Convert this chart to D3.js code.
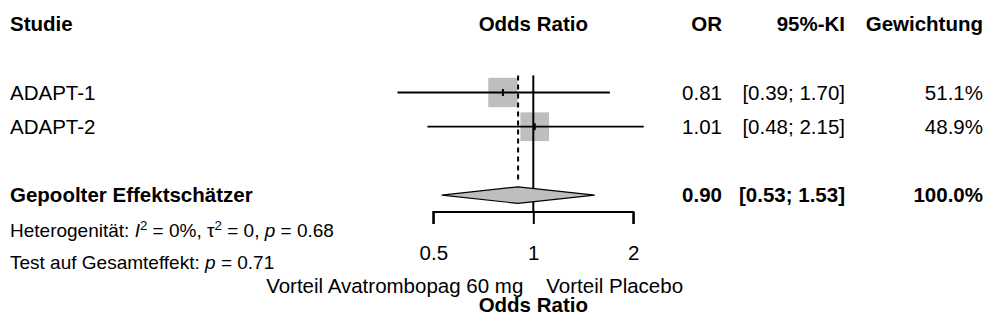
<!DOCTYPE html>
<html lang="de">
<head>
<meta charset="UTF-8">
<title>Forest plot</title>
<script src="https://d3js.org/d3.v7.min.js"></script>
<style>
  body { margin: 0; background: #fff; }
  svg text { font-family: "Liberation Sans", Arial, Helvetica, sans-serif; fill: #000; }
</style>
</head>
<body>
<svg id="chart" width="987" height="331"></svg>
<script>
    // data
    const studies = ["ADAPT-1", "ADAPT-2"];
    const orValues = [0.81, 1.01];
    const ciLower = [0.39, 0.48];
    const ciUpper = [1.70, 2.15];
    const weights = [51.1, 48.9];
    const pooled = [0.90, 0.53, 1.53];   // OR, lower, upper
    const pooledWeight = 100.0;
    const axisTicks = [0.5, 1, 2];
    const headers = ["Studie", "Odds Ratio", "OR", "95%-KI", "Gewichtung"];

    const fmt2 = d3.format(".2f");
    const fmtW = d => d3.format(".1f")(d) + "%";

    const fs = 20.5, fsHet = 19;
    const svg = d3.select("#chart");

    // rows are on an even grid: header, blank, study 1, study 2, blank, pooled
    const rowStep = 34.2;
    const yFirst = 92.5;
    const rowY = i => yFirst + i * rowStep;
    const yHeader = yFirst - 2 * rowStep, yPooled = yFirst + 3 * rowStep;
    const yAxis = 212;

    const x = d3.scaleLog().base(2).domain([0.5, 2]).range([433.3, 633.3]);
    const boxSize = d3.scaleSqrt().domain([0, 51.1]).range([0, 29.3]);

    const colOR = 722, colCI = 845, colW = 983;

    // header
    const hdr = svg.append("g").attr("font-weight", "bold").attr("font-size", fs);
    hdr.append("text").attr("x", 10).attr("y", yHeader).attr("dy", "0.35em").text(headers[0]);
    hdr.append("text").attr("x", x(1)).attr("y", yHeader).attr("dy", "0.35em").attr("text-anchor", "middle").text(headers[1]);
    hdr.append("text").attr("x", colOR).attr("y", yHeader).attr("dy", "0.35em").attr("text-anchor", "end").text(headers[2]);
    hdr.append("text").attr("x", colCI).attr("y", yHeader).attr("dy", "0.35em").attr("text-anchor", "end").text(headers[3]);
    hdr.append("text").attr("x", colW).attr("y", yHeader).attr("dy", "0.35em").attr("text-anchor", "end").text(headers[4]);

    // study rows
    const rows = svg.append("g").selectAll("g").data(studies).join("g");
    rows.append("rect")
        .attr("x", (d, i) => x(orValues[i]) - boxSize(weights[i]) / 2)
        .attr("y", (d, i) => rowY(i) - boxSize(weights[i]) / 2)
        .attr("width", (d, i) => boxSize(weights[i]))
        .attr("height", (d, i) => boxSize(weights[i]))
        .attr("fill", "#bebebe");
    rows.append("line")
        .attr("x1", (d, i) => x(ciLower[i])).attr("x2", (d, i) => x(ciUpper[i]))
        .attr("y1", (d, i) => rowY(i)).attr("y2", (d, i) => rowY(i))
        .attr("stroke", "#000").attr("stroke-width", 1.8);
    rows.append("line")
        .attr("x1", (d, i) => x(orValues[i])).attr("x2", (d, i) => x(orValues[i]))
        .attr("y1", (d, i) => rowY(i) - 3.5).attr("y2", (d, i) => rowY(i) + 3.5)
        .attr("stroke", "#000").attr("stroke-width", 2);

    // reference line at 1 and dashed line at pooled estimate
    svg.append("line")
        .attr("x1", x(pooled[0])).attr("x2", x(pooled[0]))
        .attr("y1", yFirst - rowStep / 2).attr("y2", 180)
        .attr("stroke", "#000").attr("stroke-width", 2)
        .attr("stroke-dasharray", "5,4");
    svg.append("line")
        .attr("x1", x(1)).attr("x2", x(1))
        .attr("y1", yFirst - rowStep / 2).attr("y2", yAxis)
        .attr("stroke", "#000").attr("stroke-width", 2);

    const rowText = rows.append("g").attr("font-size", fs);
    rowText.append("text").attr("x", 10).attr("y", (d, i) => rowY(i)).attr("dy", "0.35em").text(d => d);
    rowText.append("text").attr("x", colOR).attr("y", (d, i) => rowY(i)).attr("dy", "0.35em")
        .attr("text-anchor", "end").text((d, i) => fmt2(orValues[i]));
    rowText.append("text").attr("x", colCI).attr("y", (d, i) => rowY(i)).attr("dy", "0.35em")
        .attr("text-anchor", "end").text((d, i) => `[${fmt2(ciLower[i])}; ${fmt2(ciUpper[i])}]`);
    rowText.append("text").attr("x", colW).attr("y", (d, i) => rowY(i)).attr("dy", "0.35em")
        .attr("text-anchor", "end").text((d, i) => fmtW(weights[i]));

    // pooled diamond
    const dh = 8.3;
    svg.append("path")
        .attr("d", d3.line()([
            [x(pooled[1]), yPooled], [x(pooled[0]), yPooled - dh],
            [x(pooled[2]), yPooled], [x(pooled[0]), yPooled + dh]
        ]) + "Z")
        .attr("fill", "#bebebe").attr("stroke", "#000").attr("stroke-width", 1.2);

    const pt = svg.append("g").attr("font-size", fs).attr("font-weight", "bold");
    pt.append("text").attr("x", 10).attr("y", yPooled).attr("dy", "0.35em").text("Gepoolter Effektschätzer");
    pt.append("text").attr("x", colOR).attr("y", yPooled).attr("dy", "0.35em").attr("text-anchor", "end").text(fmt2(pooled[0]));
    pt.append("text").attr("x", colCI).attr("y", yPooled).attr("dy", "0.35em").attr("text-anchor", "end")
        .text(`[${fmt2(pooled[1])}; ${fmt2(pooled[2])}]`);
    pt.append("text").attr("x", colW).attr("y", yPooled).attr("dy", "0.35em").attr("text-anchor", "end").text(fmtW(pooledWeight));

    // heterogeneity text
    const het = svg.append("text").attr("x", 10).attr("y", 230).attr("dy", "0.35em").attr("font-size", fsHet);
    het.append("tspan").text("Heterogenität: ");
    het.append("tspan").attr("font-style", "italic").text("I");
    het.append("tspan").attr("baseline-shift", "super").attr("font-size", fsHet * 0.7).text("2");
    het.append("tspan").text(" = 0%, τ");
    het.append("tspan").attr("baseline-shift", "super").attr("font-size", fsHet * 0.7).text("2");
    het.append("tspan").text(" = 0, ");
    het.append("tspan").attr("font-style", "italic").text("p");
    het.append("tspan").text(" = 0.68");
    const tst = svg.append("text").attr("x", 10).attr("y", 262).attr("dy", "0.35em").attr("font-size", fsHet);
    tst.append("tspan").text("Test auf Gesamteffekt: ");
    tst.append("tspan").attr("font-style", "italic").text("p");
    tst.append("tspan").text(" = 0.71");

    // axis
    const axis = svg.append("g").attr("transform", `translate(0,${yAxis})`)
        .call(d3.axisBottom(x).tickValues(axisTicks).tickFormat(d => String(d)).tickSize(12).tickSizeOuter(0).tickPadding(21));
    axis.select(".domain").attr("stroke-width", 2).attr("d", `M${x(0.5)},12V0H${x(2)}V12`);
    axis.selectAll(".tick line").attr("stroke-width", 2);
    axis.selectAll(".tick text").attr("font-size", fs).attr("font-family", "Liberation Sans, Arial, sans-serif");

    // axis labels
    svg.append("text").attr("x", x(1) - 10).attr("y", 286).attr("dy", "0.35em").attr("font-size", fs)
        .attr("text-anchor", "end").text("Vorteil Avatrombopag 60 mg");
    svg.append("text").attr("x", x(1) + 13).attr("y", 286).attr("dy", "0.35em").attr("font-size", fs)
        .text("Vorteil Placebo");
    svg.append("text").attr("x", x(1)).attr("y", 305).attr("dy", "0.35em").attr("font-size", fs)
        .attr("font-weight", "bold").attr("text-anchor", "middle").text("Odds Ratio");
</script>
</body>
</html>
